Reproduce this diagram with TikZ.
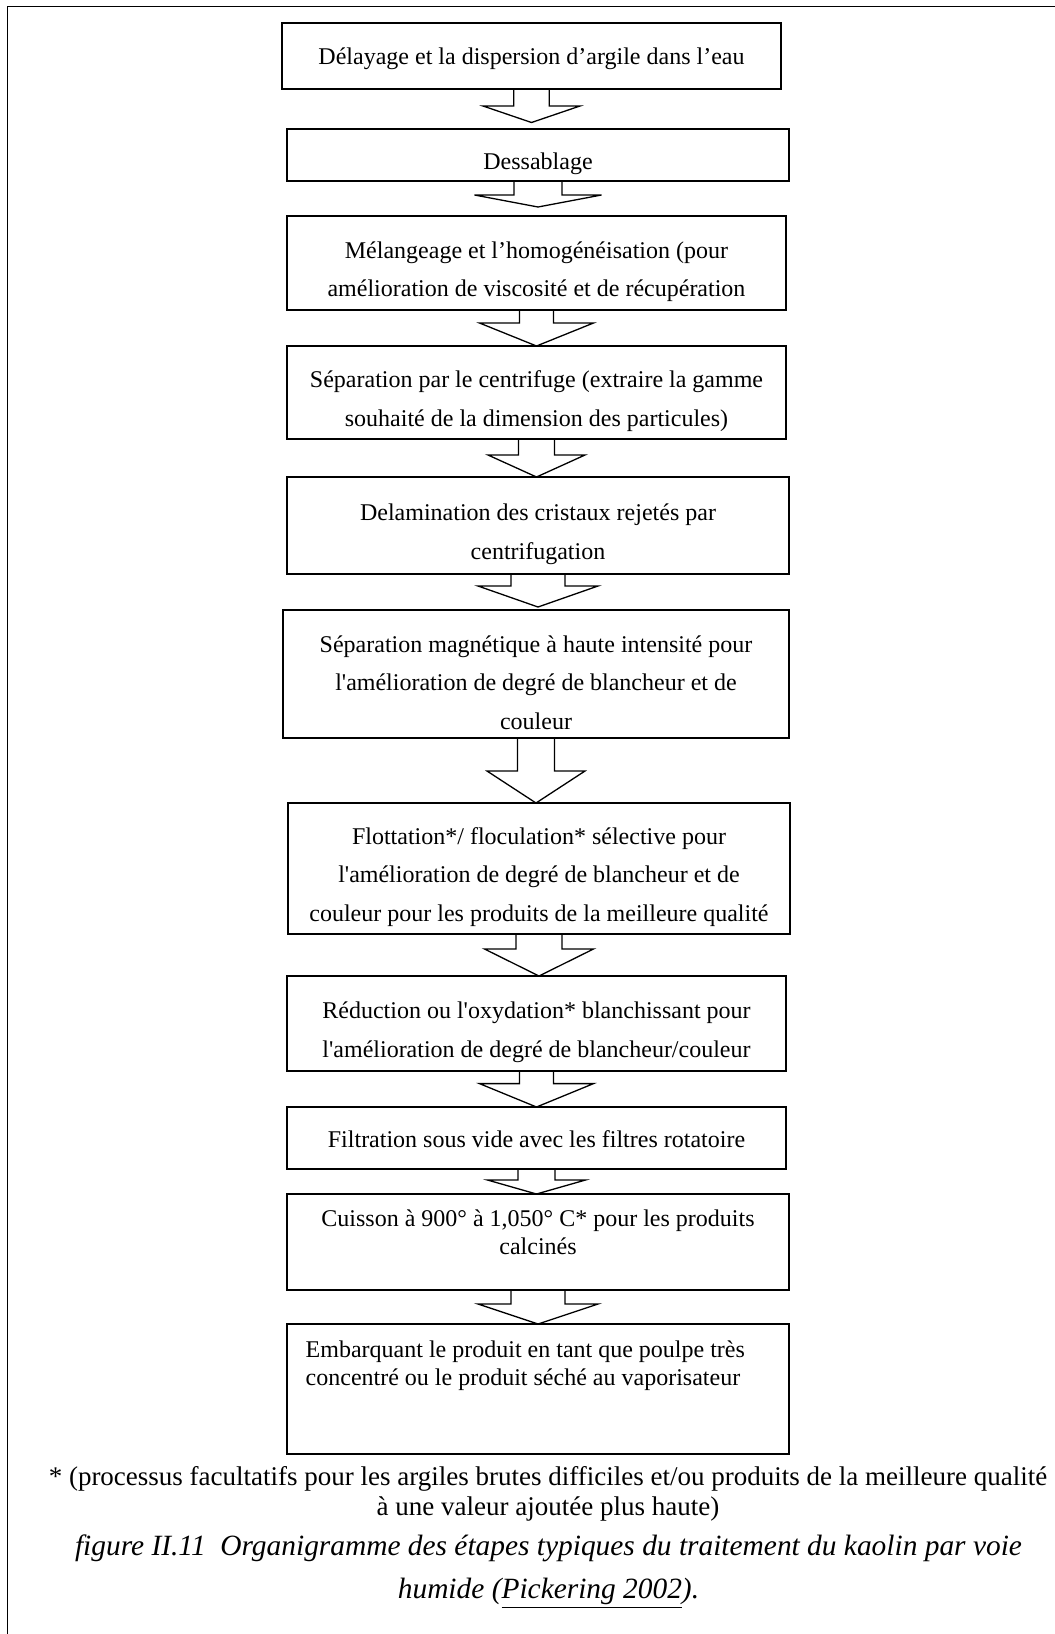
\documentclass[tikz,border=0pt]{standalone}
\usepackage{fontspec}
\setmainfont{Liberation Serif}[Ligatures=TeXOff]
\usetikzlibrary{calc}
\setlength{\parindent}{0pt}
\newcommand{\toppad}[1][17pt]{\rule{0pt}{#1}}
\newcommand{\botpad}[1]{\rule[-#1]{0pt}{#1}}
\tikzset{
  stage/.style={draw,line width=0.65pt,outer sep=0pt,inner ysep=2pt,align=center,
    minimum width=251pt,font=\fontsize{12}{19.2}\selectfont},
  tight/.style={font=\fontsize{12}{14.25}\selectfont},
  blockarrow/.style={line width=0.65pt,line join=miter},
  frame/.style={line width=0.9pt},
  foot/.style={align=center,font=\fontsize{13.5}{15}\selectfont},
  caption/.style={align=center,font=\fontsize{14.7}{21.5}\selectfont\itshape},
}

\begin{document}
\begin{tikzpicture}[x=0.5pt,y=-0.5pt]
  \useasboundingbox (0,0) rectangle (1055,1634);
  \draw[frame] (7.5,6.5) rectangle (1075,1660);

  \node[stage,minimum width=249.5pt,minimum height=33pt] (b1) at (531.5,56)
    {\toppad[11.2pt]Délayage et la dispersion d’argile dans l’eau};
  \node[stage,minimum height=26pt] (b2) at (538,155) {\toppad Dessablage};
  \node[stage,minimum width=249.5pt,minimum height=47pt] (b3) at (536.5,263)
    {\toppad Mélangeage et l’homogénéisation (pour\\amélioration de viscosité et de récupération};
  \node[stage,minimum width=249.5pt,minimum height=46.5pt] (b4) at (536.5,392.5)
    {\toppad Séparation par le centrifuge (extraire la gamme\\souhaité de la dimension des particules)};
  \node[stage,minimum height=48.5pt] (b5) at (538,525.5)
    {\toppad Delamination des cristaux rejetés par\\centrifugation};
  \node[stage,minimum width=253pt,minimum height=64pt] (b6) at (536,674)
    {\toppad Séparation magnétique à haute intensité pour\\l'amélioration de degré de blancheur et de\\couleur};
  \node[stage,minimum height=65.5pt] (b7) at (539,868.5)
    {\toppad Flottation*/ floculation* sélective pour\\l'amélioration de degré de blancheur et de\\couleur pour les produits de la meilleure qualité};
  \node[stage,minimum width=249.5pt,minimum height=47.5pt] (b8) at (536.5,1023.5)
    {\toppad Réduction ou l'oxydation* blanchissant pour\\l'amélioration de degré de blancheur/couleur};
  \node[stage,minimum width=249.5pt,minimum height=31pt] (b9) at (536.5,1138)
    {\toppad[9.2pt]Filtration sous vide avec les filtres rotatoire};
  \node[stage,tight,minimum height=48pt] (b10) at (538,1242)
    {Cuisson à 900° à 1,050° C* pour les produits\\calcinés\botpad{9.8pt}};
  \node[stage,tight,align=flush left,text width=232.3pt,inner xsep=9.35pt,minimum height=65pt] (b11) at (538,1389)
    {Embarquant le produit en tant que poulpe très\\concentré ou le produit séché au vaporisateur\botpad{25.8pt}};

  \foreach \a/\b/\s/\h/\d/\g in {b1/b2/17.7/48.5/17/6.5, b2/b3/24/63.5/14/9,
      b3/b4/17/57/13/0, b4/b5/18/48.5/16/0, b5/b6/27/60/12/3, b6/b7/18.5/49/33/0,
      b7/b8/23/54.5/15/0, b8/b9/17/57/12.6/0, b9/b10/18.5/49/11/0, b10/b11/27/60/14/0}
    \draw[blockarrow] ($(\a.south)+(-\s,0)$) |- ($(\a.south)+(-\h,\d)$)
      -- ($(\a.south |- \b.north)+(0,-\g)$) -- ($(\a.south)+(\h,\d)$) -| ($(\a.south)+(\s,0)$);

  \node[foot] (note) at (548,1494)
    {* (processus facultatifs pour les argiles brutes difficiles et/ou produits de la meilleure qualité\\à une valeur ajoutée plus haute)};
  \node[caption] (cap) at (548.5,1572)
    {figure II.11~~Organigramme des étapes typiques du traitement du kaolin par voie\\humide (\underline{Pickering 2002}).};
\end{tikzpicture}
\end{document}
